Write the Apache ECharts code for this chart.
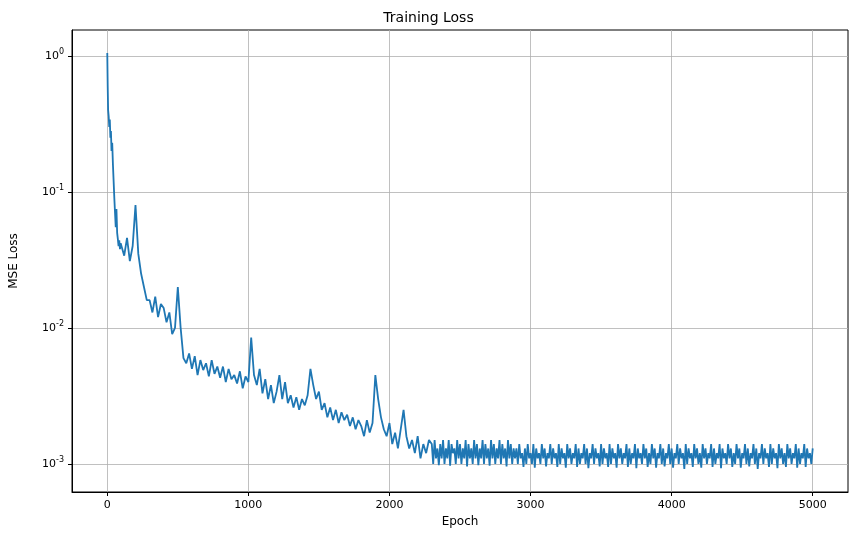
<!DOCTYPE html>
<html><head><meta charset="utf-8">
<script src="https://cdn.jsdelivr.net/npm/echarts@6/dist/echarts.min.js"></script>
<style>html,body{margin:0;padding:0;background:#fff}#c{width:857px;height:546px}</style>
</head><body><div id="c"></div>
<script>
// early epochs (explicit)
const earlyEpochs = [0,3,6,10,14,18,22,26,30,35,40,45,50,55,60,65,70,75,80,85,90,95];
const earlyLoss = [1.05,0.6,0.4,0.36,0.3,0.34,0.25,0.28,0.2,0.23,0.16,0.12,0.09,0.07,0.055,0.075,0.05,0.045,0.04,0.044,0.038,0.042];
// epochs 100..2280, every 20 epochs
const midStart = 100, midStep = 20;
const midLoss = [
.042,.034,.046,.031,.040,
.080,.035,.025,.020,.016,
.016,.013,.017,.012,.015,
.014,.011,.013,.009,.010,
.020,.010,.006,.0055,.0065,
.0050,.0062,.0045,.0058,.0049,
.0055,.0044,.0058,.0046,.0052,
.0043,.0052,.0040,.0050,.0042,
.0045,.0039,.0048,.0036,.0044,
.0040,.0085,.0045,.0038,.0050,
.0033,.0042,.0030,.0038,.0028,
.0034,.0045,.0030,.0040,.0028,
.0032,.0026,.0031,.0025,.0030,
.0027,.0032,.0050,.0038,.0030,
.0034,.0025,.0028,.0022,.0026,
.0021,.0025,.0020,.0024,.0021,
.0023,.0019,.0022,.0018,.0021,
.0019,.0016,.0021,.0017,.0020,
.0045,.0030,.0022,.0018,.0016,
.0020,.0014,.0017,.0013,.0018,
.0025,.0016,.0013,.0015,.0012,
.0016,.0011,.0014,.0012,.0015
];
// epochs 2300..5000, every 10 epochs
const lateStart = 2300, lateStep = 10;
const lateLoss = [
.0014,.0010,.0015,.0011,.0013,.00098,.0014,.0011,.0015,.0010,
.0013,.0011,.0015,.00097,.0014,.0012,.0013,.0010,.0015,.0011,
.0014,.0010,.0013,.0011,.0015,.00096,.0014,.0011,.0013,.0010,
.0015,.0011,.0014,.00098,.0013,.0011,.0015,.0010,.0014,.0011,
.0013,.00097,.0015,.0011,.0014,.0010,.0013,.0011,.0015,.0010,
.0014,.0011,.0013,.00096,.0015,.0011,.0014,.0010,.0013,.0011,
.0013,.0010,.0014,.0011,.0012,.00095,.0013,.0010,.0014,.0011,
.0012,.0010,.0014,.00094,.0013,.0011,.0012,.0010,.0014,.0011,
.0013,.00096,.0012,.0011,.0014,.0010,.0013,.0011,.0012,.00095,
.0014,.0010,.0013,.0011,.0012,.00094,.0014,.0011,.0013,.0010,
.0012,.0011,.0014,.00095,.0013,.0010,.0012,.0011,.0014,.0010,
.0013,.00093,.0012,.0011,.0014,.0010,.0013,.0011,.0012,.00096,
.0014,.0010,.0013,.0011,.0012,.00095,.0014,.0010,.0013,.0011,
.0012,.00094,.0014,.0011,.0013,.0010,.0012,.0011,.0014,.00095,
.0013,.0010,.0012,.0011,.0014,.00093,.0013,.0011,.0012,.0010,
.0014,.0011,.0013,.00095,.0012,.0010,.0014,.0011,.0013,.00094,
.0012,.0011,.0014,.0010,.0013,.00096,.0012,.0011,.0014,.0010,
.0013,.00094,.0012,.0011,.0014,.0010,.0013,.0011,.0012,.00092,
.0014,.0010,.0013,.0011,.0012,.00095,.0014,.0011,.0013,.0010,
.0012,.00094,.0014,.0011,.0013,.0010,.0012,.0011,.0014,.00095,
.0013,.0010,.0012,.0011,.0014,.00093,.0013,.0011,.0012,.0010,
.0014,.0011,.0013,.00095,.0012,.0010,.0014,.0011,.0013,.00094,
.0012,.0011,.0014,.0010,.0013,.00096,.0012,.0011,.0014,.0010,
.0013,.00092,.0012,.0011,.0014,.0010,.0013,.0011,.0012,.00095,
.0014,.0010,.0013,.0011,.0012,.00093,.0014,.0011,.0013,.0010,
.0012,.00095,.0014,.0011,.0013,.0010,.0012,.0011,.0014,.00094,
.0013,.0010,.0012,.0011,.0014,.00095,.0013,.0011,.0012,.0010,
.0013
];
const xTicks = [0,1000,2000,3000,4000,5000];
const yTicks = [1, 0.1, 0.01, 0.001];
const data = earlyEpochs.map((e,i)=>[e, earlyLoss[i]]);
midLoss.forEach((v,i)=>data.push([midStart + i*midStep, v]));
lateLoss.forEach((v,i)=>data.push([lateStart + i*lateStep, v]));
const sup = v=>{const e=Math.round(Math.log10(v)); return '10{s|'+e+'}';};
const chart = echarts.init(document.getElementById('c'));
chart.setOption({
  animation:false,
  title:{text:'Training Loss',left:'center',top:6,textStyle:{fontFamily:'DejaVu Sans',fontSize:14,fontWeight:'normal',color:'#000'}},
  grid:{left:71,right:9,top:30,bottom:54,show:true,borderColor:'#000',borderWidth:1},
  xAxis:{type:'value',min:-250,max:5250,name:'Epoch',nameLocation:'middle',nameGap:24,
    nameTextStyle:{fontFamily:'DejaVu Sans',fontSize:12,color:'#000'},
    axisLine:{show:true,onZero:false,lineStyle:{color:'#000'}},
    axisTick:{show:true,length:4,customValues:xTicks,lineStyle:{color:'#000'}},
    axisLabel:{fontFamily:'DejaVu Sans',fontSize:11,color:'#000',customValues:xTicks,formatter:v=>String(v)},
    splitLine:{show:true,lineStyle:{color:'#b0b0b0',width:0.8}}},
  yAxis:{type:'log',logBase:10,min:0.000622,max:1.55,name:'MSE Loss',nameLocation:'middle',nameGap:52,
    nameTextStyle:{fontFamily:'DejaVu Sans',fontSize:12,color:'#000'},
    axisLine:{show:true,onZero:false,lineStyle:{color:'#000'}},
    axisTick:{show:true,length:4,customValues:yTicks,lineStyle:{color:'#000'}},
    axisLabel:{fontFamily:'DejaVu Sans',fontSize:11,color:'#000',customValues:yTicks,formatter:sup,
      rich:{s:{fontSize:8,verticalAlign:'top',padding:[0,0,8,0],fontFamily:'DejaVu Sans',color:'#000'}}},
    splitLine:{show:true,lineStyle:{color:'#b0b0b0',width:0.8}}},
  series:[{type:'line',data:data,showSymbol:false,lineStyle:{color:'#1f77b4',width:1.8},itemStyle:{color:'#1f77b4'}}]
});
</script></body></html>
